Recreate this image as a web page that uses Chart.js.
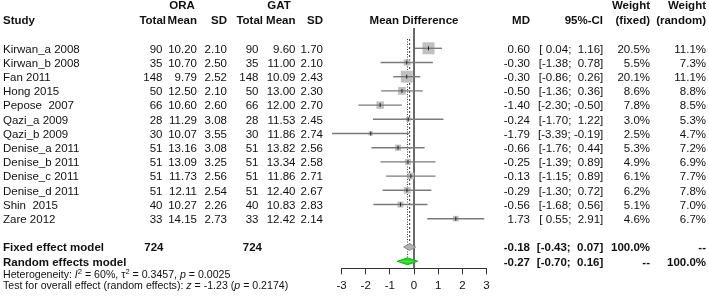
<!DOCTYPE html>
<html>
<head>
<meta charset="utf-8">
<script src="https://cdn.jsdelivr.net/npm/chart.js@4.4.1/dist/chart.umd.min.js"></script>
<style>
  html, body { margin: 0; padding: 0; background: #fff; }
  canvas { display: block; }
</style>
</head>
<body>
<canvas id="forest" width="709" height="296" style="width:709px;height:296px"></canvas>
<script>
// Forest plot: ORA vs GAT, mean difference per study, fixed + random effects.

const studies = ['Kirwan_a 2008', 'Kirwan_b 2008', 'Fan 2011', 'Hong 2015', 'Pepose  2007', 'Qazi_a 2009', 'Qazi_b 2009',
    'Denise_a 2011', 'Denise_b 2011', 'Denise_c 2011', 'Denise_d 2011', 'Shin  2015', 'Zare 2012'];
const oraTotal = [90, 35, 148, 50, 66, 28, 30, 51, 51, 51, 51, 40, 33];
const oraMean = [10.20, 10.70, 9.79, 12.50, 10.60, 11.29, 10.07, 13.16, 13.09, 11.73, 12.11, 10.27, 14.15];
const oraSD = [2.10, 2.50, 2.52, 2.10, 2.60, 3.08, 3.55, 3.08, 3.25, 2.56, 2.54, 2.26, 2.73];
const gatTotal = [90, 35, 148, 50, 66, 28, 30, 51, 51, 51, 51, 40, 33];
const gatMean = [9.60, 11.00, 10.09, 13.00, 12.00, 11.53, 11.86, 13.82, 13.34, 11.86, 12.40, 10.83, 12.42];
const gatSD = [1.70, 2.10, 2.43, 2.30, 2.70, 2.45, 2.74, 2.56, 2.58, 2.71, 2.67, 2.83, 2.14];
const md = [0.60, -0.30, -0.30, -0.50, -1.40, -0.24, -1.79, -0.66, -0.25, -0.13, -0.29, -0.56, 1.73];
const ciLow = [0.04, -1.38, -0.86, -1.36, -2.30, -1.70, -3.39, -1.76, -1.39, -1.15, -1.30, -1.68, 0.55];
const ciHigh = [1.16, 0.78, 0.26, 0.36, -0.50, 1.22, -0.19, 0.44, 0.89, 0.89, 0.72, 0.56, 2.91];
const weightFixed = [20.5, 5.5, 20.1, 8.6, 7.8, 3.0, 2.5, 5.3, 4.9, 6.1, 6.2, 5.1, 4.6];
const weightRandom = [11.1, 7.3, 11.1, 8.8, 8.5, 5.3, 4.7, 7.2, 6.9, 7.7, 7.8, 7.0, 6.7];

const totalOra = 724;
const totalGat = 724;
const fixedModel = { md: -0.18, lo: -0.43, hi: 0.07, wFixed: '100.0%', wRandom: '--' };
const randomModel = { md: -0.27, lo: -0.70, hi: 0.16, wFixed: '--', wRandom: '100.0%' };
const heterogeneity = { i2: '60%', tau2: '0.3457', p: '0.0025' };
const overall = { z: '-1.23', p: '0.2174' };
const xTicks = [-3, -2, -1, 0, 1, 2, 3];

// layout (pixels)
const ROW0_PX = 48.3, ROW_PX = 14.2, AXIS_PX = 268.3, TEXT_DY = 1.2;
const PLOT_LEFT = 341.5, PLOT_RIGHT = 486.5, W = 709, H = 296;
const FIXED_ROW = studies.length + 1, RANDOM_ROW = studies.length + 2;
const FONT = '"Liberation Sans", Arial, sans-serif';
const TXT = '#111';

const fmt = (v) => v.toFixed(2);
const pad5 = (v) => fmt(v).padStart(5, ' ');
const ciStr = (lo, hi) => `[${pad5(lo)}; ${pad5(hi)}]`;
const n = studies.length;

// point-estimate ticks, CI lines, squares
const tickSet = {
    label: 'md', showLine: false, data: md.map((v, i) => ({ x: v, y: i })),
    pointStyle: 'line', rotation: 90, pointRadius: 2, borderColor: '#222', borderWidth: 1, order: 0,
};
const ciSets = studies.map((s, i) => ({
    label: s, data: [{ x: ciLow[i], y: i }, { x: ciHigh[i], y: i }],
    borderColor: '#7a7a7a', borderWidth: 1.4, pointRadius: 0, order: 1,
}));
const maxW = Math.max(...weightFixed);
const squareSet = {
    label: 'weights', showLine: false, data: md.map((v, i) => ({ x: v, y: i })),
    pointStyle: 'rect', pointRadius: weightFixed.map((w) => (12 * Math.sqrt(w / maxW)) / Math.SQRT2),
    backgroundColor: '#c0c0c0', borderWidth: 0, order: 2,
};

// reference lines
const topRow = (28 - ROW0_PX) / ROW_PX;
const dashTop = (39 - ROW0_PX) / ROW_PX;
const axisRow = (AXIS_PX - ROW0_PX) / ROW_PX;
const refSets = [
    { label: 'zero', data: [{ x: 0, y: topRow }, { x: 0, y: axisRow }], borderColor: '#555', borderWidth: 1, pointRadius: 0, order: 5 },
    { label: 'fixed', data: [{ x: fixedModel.md, y: dashTop }, { x: fixedModel.md, y: FIXED_ROW }], borderColor: '#333', borderWidth: 1, borderDash: [2, 2], pointRadius: 0, order: 5 },
    { label: 'random', data: [{ x: randomModel.md, y: dashTop }, { x: randomModel.md, y: RANDOM_ROW }], borderColor: '#333', borderWidth: 1, borderDash: [1, 1.5], pointRadius: 0, order: 5 },
];

// diamonds as two filled halves each
const DIA_H = 0.24;
function diamond(m, row, fillC, lineC) {
    const half = (sign) => ({
        label: 'dia', data: [{ x: m.lo, y: row }, { x: m.md, y: row + sign * DIA_H }, { x: m.hi, y: row }],
        fill: { value: row }, backgroundColor: fillC, borderColor: lineC, borderWidth: 1, pointRadius: 0, tension: 0, order: 3,
    });
    return [half(-1), half(1)];
}
const diamondSets = [...diamond(fixedModel, FIXED_ROW, '#b4b4b4', '#8a8a8a'), ...diamond(randomModel, RANDOM_ROW, '#12e812', '#1aa51a')];

const textPlugin = {
    id: 'forestText',
    afterDraw(chart) {
        const ctx = chart.ctx;
        const ys = chart.scales.y;
        const rowY = (r) => ys.getPixelForValue(r) + TEXT_DY;
        const put = (s, x, y, align, bold, size) => {
            ctx.font = `${bold ? 'bold ' : ''}${size || 11.5}px ${FONT}`;
            ctx.textAlign = align;
            ctx.fillText(s, x, y);
        };
        ctx.save();
        ctx.fillStyle = TXT;
        ctx.textBaseline = 'middle';

        // headers
        const h1 = 5.8, h2 = 20.7;
        put('ORA', 182, h1, 'center', true);
        put('GAT', 279, h1, 'center', true);
        put('Weight', 650, h1, 'right', true);
        put('Weight', 706, h1, 'right', true);
        put('Study', 3, h2, 'left', true);
        put('Total', 166, h2, 'right', true);
        put('Mean', 197, h2, 'right', true);
        put('SD', 227, h2, 'right', true);
        put('Total', 263, h2, 'right', true);
        put('Mean', 295.5, h2, 'right', true);
        put('SD', 323, h2, 'right', true);
        put('Mean Difference', 414, h2, 'center', true);
        put('MD', 530, h2, 'right', true);
        put('95%-CI', 603, h2, 'right', true);
        put('(fixed)', 650, h2, 'right', true);
        put('(random)', 706, h2, 'right', true);

        for (let i = 0; i < n; i++) {
            const y = rowY(i);
            put(studies[i], 3, y, 'left');
            put(String(oraTotal[i]), 162.5, y, 'right');
            put(fmt(oraMean[i]), 197, y, 'right');
            put(fmt(oraSD[i]), 227, y, 'right');
            put(String(gatTotal[i]), 258.5, y, 'right');
            put(fmt(gatMean[i]), 295.5, y, 'right');
            put(fmt(gatSD[i]), 323, y, 'right');
            put(fmt(md[i]), 530, y, 'right');
            put(ciStr(ciLow[i], ciHigh[i]), 603.3, y, 'right');
            put(weightFixed[i].toFixed(1) + '%', 650, y, 'right');
            put(weightRandom[i].toFixed(1) + '%', 706, y, 'right');
        }

        [[fixedModel, FIXED_ROW, 'Fixed effect model'], [randomModel, RANDOM_ROW, 'Random effects model']].forEach(([m, r, name], k) => {
            const y = rowY(r);
            put(name, 3, y, 'left', true);
            if (k === 0) {
                put(String(totalOra), 163.5, y, 'right', true);
                put(String(totalGat), 262, y, 'right', true);
            }
            put(fmt(m.md), 530, y, 'right', true);
            put(ciStr(m.lo, m.hi), 603.3, y, 'right', true);
            put(m.wFixed, 650, y, 'right', true);
            put(m.wRandom, 706, y, 'right', true);
        });

        // heterogeneity / overall effect lines (rich text)
        const small = 10.6;
        const runs = (parts, x, y) => {
            ctx.textAlign = 'left';
            parts.forEach(([s, style]) => {
                let yy = y, sz = small;
                let f = '';
                if (style === 'i') f = 'italic ';
                if (style === 'sup') { sz = small * 0.72; yy = y - 3.8; }
                ctx.font = `${f}${sz}px ${FONT}`;
                ctx.fillText(s, x, yy);
                x += ctx.measureText(s).width;
            });
        };
        runs([['Heterogeneity: '], ['I', 'i'], ['2', 'sup'], [' = ' + heterogeneity.i2 + ', '], ['\u03c4'], ['2', 'sup'],
            [' = ' + heterogeneity.tau2 + ', '], ['p', 'i'], [' = ' + heterogeneity.p]], 3, 275.5);
        runs([['Test for overall effect (random effects): '], ['z', 'i'], [' = ' + overall.z + ' ('], ['p', 'i'],
            [' = ' + overall.p + ')']], 3, 286.3);
        ctx.restore();
    },
};

new Chart(document.getElementById('forest'), {
    type: 'line',
    data: { datasets: [tickSet, ...ciSets, squareSet, ...diamondSets, ...refSets].map((d) => ({ clip: false, ...d })) },
    options: {
        responsive: false,
        animation: false,
        events: [],
        layout: { autoPadding: false, padding: { left: PLOT_LEFT, right: W - PLOT_RIGHT, top: 0, bottom: 0 } },
        plugins: { legend: { display: false }, tooltip: { enabled: false } },
        scales: {
            x: {
                type: 'linear', min: -3, max: 3,
                afterBuildTicks: (s) => { s.ticks = xTicks.map((v) => ({ value: v })); },
                afterFit: (s) => { s.height = H - AXIS_PX; },
                grid: { drawOnChartArea: false, drawTicks: true, tickLength: 6, color: '#333', lineWidth: 1 },
                border: { display: true, color: '#333', width: 1 },
                ticks: { color: TXT, padding: 5, font: { family: FONT, size: 11.5 } },
            },
            y: {
                type: 'linear', reverse: true, display: false,
                min: -ROW0_PX / ROW_PX, max: axisRow,
            },
        },
    },
    plugins: [textPlugin],
});
</script>
</body>
</html>
